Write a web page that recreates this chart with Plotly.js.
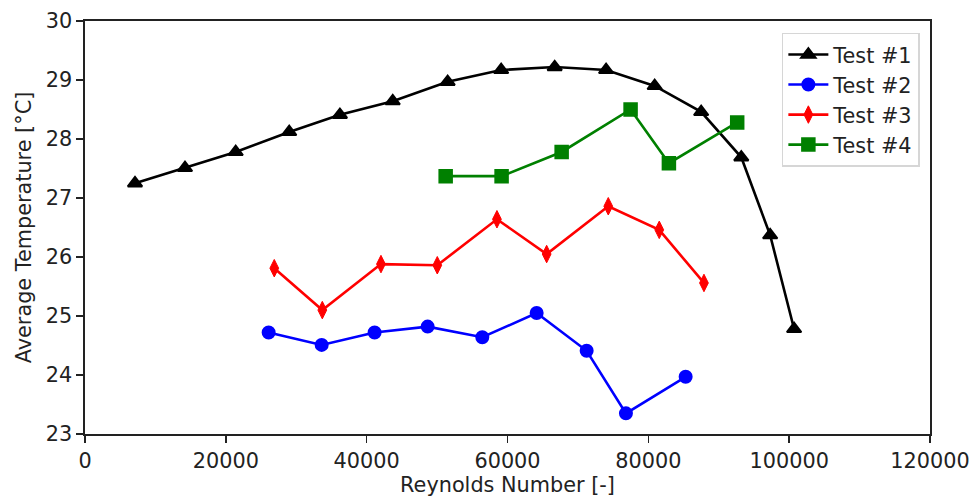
<!DOCTYPE html>
<html>
<head>
<meta charset="utf-8">
<script src="https://cdn.plot.ly/plotly-3.0.1.min.js"></script>
<style>html,body{margin:0;padding:0;background:#fff;}#chart{width:974px;height:502px;}</style>
</head>
<body>
<div id="chart"></div>
<script>
const re1 = [7100, 14200, 21400, 29000, 36200, 43700, 51500, 59100, 66700, 74000, 80900, 87500, 93200, 97300, 100700];
const t1  = [27.25, 27.51, 27.78, 28.12, 28.41, 28.64, 28.97, 29.17, 29.22, 29.17, 28.90, 28.46, 27.69, 26.37, 24.78];
const re2 = [26080, 33610, 41130, 48660, 56420, 64140, 71240, 76820, 85300];
const t2  = [24.72, 24.51, 24.72, 24.82, 24.64, 25.05, 24.41, 23.35, 23.97];
const re3 = [26880, 33700, 42030, 50030, 58500, 65560, 74310, 81550, 87900];
const t3  = [25.81, 25.10, 25.88, 25.86, 26.64, 26.05, 26.86, 26.46, 25.56];
const re4 = [51220, 59160, 67690, 77480, 82920, 92620];
const t4  = [27.37, 27.37, 27.78, 28.50, 27.59, 28.28];
const names = ["Test #1", "Test #2", "Test #3", "Test #4"];

const FONT = "DejaVu Sans, sans-serif";
const FS = 20.8;
const LW = 2.6;
function mk(sym, size, color) {
  return {symbol: sym, size: size, color: color, line: {color: color, width: 2}};
}
const traces = [
  {x: re1, y: t1, name: names[0], mode: "lines+markers", line: {color: "black", width: LW}, marker: mk("triangle-up", 12.5, "black")},
  {x: re2, y: t2, name: names[1], mode: "lines+markers", line: {color: "blue", width: LW}, marker: mk("circle", 12, "blue")},
  {x: re3, y: t3, name: names[2], mode: "lines+markers", line: {color: "red", width: LW}, marker: {symbol: "diamond-tall", size: 12.5, color: "red", line: {color: "red", width: 1}}},
  {x: re4, y: t4, name: names[3], mode: "lines+markers", line: {color: "green", width: LW}, marker: mk("square", 12.5, "green")}
];
const axisCommon = {
  showline: true, mirror: true, linecolor: "#222", linewidth: 1.6,
  ticks: "outside", ticklen: 7, tickwidth: 1.6, tickcolor: "#222",
  showgrid: false, zeroline: false,
  tickfont: {family: FONT, size: FS, color: "#222"}
};
const layout = {
  width: 974, height: 502,
  margin: {l: 85, r: 44, t: 21, b: 68},
  paper_bgcolor: "white", plot_bgcolor: "white",
  font: {family: FONT, color: "#222"},
  showlegend: true,
  legend: {x: 0.988, y: 0.971, xanchor: "right", yanchor: "top",
    bordercolor: "#d6d6d6", borderwidth: 1.5, bgcolor: "rgba(255,255,255,0.8)",
    font: {family: FONT, size: FS, color: "#222"}, itemwidth: 40},
  xaxis: Object.assign({}, axisCommon, {range: [0, 120000], dtick: 20000, tickformat: "d",
    title: {text: "Reynolds Number [-]", font: {family: FONT, size: FS, color: "#222"}, standoff: 6}}),
  yaxis: Object.assign({}, axisCommon, {range: [23, 30], dtick: 1,
    title: {text: "Average Temperature [°C]", font: {family: FONT, size: FS, color: "#222"}, standoff: 8}})
};
Plotly.newPlot("chart", traces, layout, {displayModeBar: false, staticPlot: true});
</script>
</body>
</html>
